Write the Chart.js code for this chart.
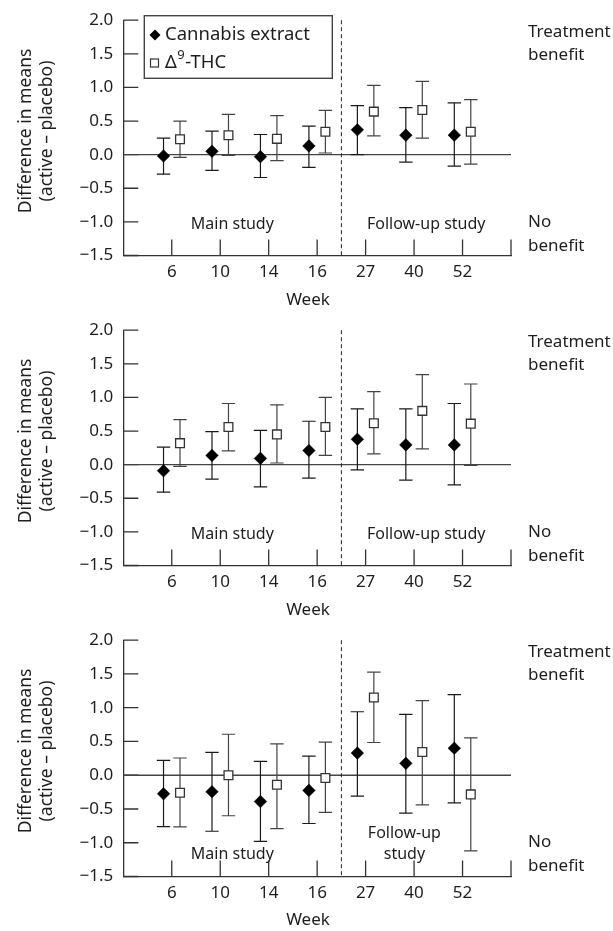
<!DOCTYPE html>
<html>
<head>
<meta charset="utf-8">
<script src="https://cdn.jsdelivr.net/npm/chart.js@4.4.0/dist/chart.umd.min.js"></script>
<style>
  html, body { margin: 0; padding: 0; background: #fff; }
  .panel { position: relative; width: 613px; height: 310px; }
</style>
</head>
<body>
<div class="panel"><canvas id="chart1"></canvas></div>
<div class="panel"><canvas id="chart2"></canvas></div>
<div class="panel" style="height:311px"><canvas id="chart3"></canvas></div>
<script>
const weeks = ["6", "10", "14", "16", "27", "40", "52"];
const yTicks = [-1.5, -1.0, -0.5, 0.0, 0.5, 1.0, 1.5, 2.0];

// panel 1
const extractMean1 = [-0.02, 0.05, -0.03, 0.13, 0.37, 0.29, 0.29];
const extractLow1 = [-0.29, -0.235, -0.34, -0.19, 0.0, -0.11, -0.17];
const extractHigh1 = [0.245, 0.35, 0.30, 0.425, 0.73, 0.70, 0.77];
const thcMean1 = [0.23, 0.29, 0.235, 0.34, 0.64, 0.665, 0.34];
const thcLow1 = [-0.04, -0.01, -0.09, 0.025, 0.28, 0.245, -0.14];
const thcHigh1 = [0.50, 0.60, 0.58, 0.66, 1.03, 1.09, 0.82];

// panel 2
const extractMean2 = [-0.09, 0.137, 0.093, 0.21, 0.377, 0.294, 0.294];
const extractLow2 = [-0.41, -0.215, -0.33, -0.20, -0.078, -0.23, -0.30];
const extractHigh2 = [0.26, 0.49, 0.51, 0.646, 0.83, 0.83, 0.91];
const thcMean2 = [0.32, 0.56, 0.45, 0.56, 0.617, 0.80, 0.61];
const thcLow2 = [-0.025, 0.205, 0.025, 0.137, 0.16, 0.235, -0.01];
const thcHigh2 = [0.67, 0.91, 0.89, 1.0, 1.087, 1.34, 1.20];

// panel 3
const extractMean3 = [-0.274, -0.245, -0.39, -0.225, 0.328, 0.176, 0.40];
const extractLow3 = [-0.76, -0.83, -0.98, -0.715, -0.31, -0.56, -0.41];
const extractHigh3 = [0.22, 0.338, 0.205, 0.284, 0.94, 0.90, 1.194];
const thcMean3 = [-0.26, 0.0, -0.142, -0.04, 1.15, 0.343, -0.284];
const thcLow3 = [-0.764, -0.60, -0.79, -0.55, 0.485, -0.44, -1.12];
const thcHigh3 = [0.255, 0.607, 0.465, 0.49, 1.527, 1.106, 0.553];

const FONT = '"Noto Sans", "Open Sans", sans-serif';
const INK = "#1e1e1e";
const OFFSET = 0.17;

function fmtTick(v) {
  return (v < 0 ? "\u2212" : "") + Math.abs(v).toFixed(1);
}

// inner ticks, reference lines, error bars
const decorBefore = {
  id: "decorBefore",
  beforeDatasetsDraw(chart) {
    const { ctx, chartArea: a, scales: { x, y } } = chart;
    ctx.save();
    ctx.strokeStyle = "#333";
    ctx.lineWidth = 1.3;
    ctx.beginPath();
    yTicks.forEach(v => {
      const py = y.getPixelForValue(v);
      ctx.moveTo(a.left, py);
      ctx.lineTo(a.left + 15, py);
    });
    for (let i = 1; i <= weeks.length + 1; i++) {
      const px = x.getPixelForValue(i);
      ctx.moveTo(px, a.bottom);
      ctx.lineTo(px, a.bottom - 16);
    }
    ctx.stroke();

    // zero line
    ctx.strokeStyle = "#444";
    ctx.lineWidth = 1.3;
    ctx.beginPath();
    ctx.moveTo(a.left, y.getPixelForValue(0));
    ctx.lineTo(a.right, y.getPixelForValue(0));
    ctx.stroke();

    // main / follow-up split
    ctx.strokeStyle = "#222";
    ctx.lineWidth = 1;
    ctx.setLineDash([4, 3]);
    ctx.beginPath();
    ctx.moveTo(x.getPixelForValue(4.5), a.top);
    ctx.lineTo(x.getPixelForValue(4.5), a.bottom);
    ctx.stroke();
    ctx.setLineDash([]);

    // error bars
    chart.data.datasets.forEach((ds, di) => {
      const meta = chart.getDatasetMeta(di);
      ctx.strokeStyle = ds.errColor;
      ctx.lineWidth = 1.2;
      ctx.beginPath();
      meta.data.forEach((pt, i) => {
        const lo = y.getPixelForValue(ds.errLow[i]);
        const hi = y.getPixelForValue(ds.errHigh[i]);
        ctx.moveTo(pt.x, lo);
        ctx.lineTo(pt.x, hi);
        ctx.moveTo(pt.x - 6.7, lo);
        ctx.lineTo(pt.x + 6.7, lo);
        ctx.moveTo(pt.x - 6.7, hi);
        ctx.lineTo(pt.x + 6.7, hi);
      });
      ctx.stroke();
    });
    ctx.restore();
  }
};

// texts and legend
const decorAfter = {
  id: "decorAfter",
  afterDraw(chart, args, opts) {
    const { ctx, chartArea: a, scales: { x, y } } = chart;
    ctx.save();
    ctx.fillStyle = INK;

    // y title
    ctx.save();
    ctx.translate(31, 131);
    ctx.rotate(-Math.PI / 2);
    ctx.font = "17.5px " + FONT;
    ctx.textAlign = "center";
    ctx.textBaseline = "alphabetic";
    ctx.fillText("Difference in means", 0, 0);
    ctx.fillText("(active \u2013 placebo)", 0, 21);
    ctx.restore();

    ctx.textAlign = "center";
    ctx.textBaseline = "middle";
    ctx.font = "17px " + FONT;
    ctx.fillText("Week", 308, 300);

    ctx.font = "16px " + FONT;
    ctx.fillText("Main study", x.getPixelForValue(2.25), y.getPixelForValue(opts.mainY));
    opts.followText.forEach((t, i) => {
      ctx.fillText(t, x.getPixelForValue(opts.followX), y.getPixelForValue(opts.followY) + i * 21.5);
    });

    ctx.textAlign = "left";
    ctx.font = "17px " + FONT;
    const rx = a.right + 17;
    ctx.fillText("Treatment", rx, 32.3);
    ctx.fillText("benefit", rx, 55);
    ctx.fillText("No", rx, 222);
    ctx.fillText("benefit", rx, 246);

    if (opts.legend) {
      ctx.strokeStyle = "#444";
      ctx.lineWidth = 1.4;
      ctx.strokeRect(144.3, 15.7, 188, 62.6);
      // diamond
      ctx.fillStyle = "#000";
      ctx.beginPath();
      ctx.moveTo(155, 29.5);
      ctx.lineTo(160.5, 35);
      ctx.lineTo(155, 40.5);
      ctx.lineTo(149.5, 35);
      ctx.closePath();
      ctx.fill();
      // square
      ctx.fillStyle = "#fff";
      ctx.strokeStyle = "#333";
      ctx.lineWidth = 1.2;
      ctx.fillRect(150.5, 59, 8, 8);
      ctx.strokeRect(150.5, 59, 8, 8);
      ctx.fillStyle = INK;
      ctx.font = "18.5px " + FONT;
      ctx.fillText("Cannabis extract", 165, 35);
      const w = ctx.measureText("\u0394").width;
      ctx.fillText("\u0394", 165, 63);
      ctx.font = "13px " + FONT;
      ctx.fillText("9", 165 + w + 0.5, 55.5);
      const w9 = ctx.measureText("9").width;
      ctx.font = "18.5px " + FONT;
      ctx.fillText("-THC", 165 + w + w9 + 1, 63);
    }
    ctx.restore();
  }
};

function makeChart(id, eMean, eLow, eHigh, tMean, tLow, tHigh, decor) {
  return new Chart(document.getElementById(id), {
    type: "scatter",
    data: {
      datasets: [
        {
          label: "Cannabis extract",
          data: eMean.map((v, i) => ({ x: i + 1 - OFFSET, y: v })),
          errLow: eLow,
          errHigh: eHigh,
          errColor: "#1a1a1a",
          pointStyle: "rectRot",
          pointRadius: 6.3,
          backgroundColor: "#000",
          borderColor: "#000",
          borderWidth: 0.5
        },
        {
          label: "\u0394\u2079-THC",
          data: tMean.map((v, i) => ({ x: i + 1 + OFFSET, y: v })),
          errLow: tLow,
          errHigh: tHigh,
          errColor: "#444",
          pointStyle: "rect",
          pointRadius: 6.2,
          backgroundColor: "#fff",
          borderColor: "#333",
          borderWidth: 1.3
        }
      ]
    },
    options: {
      responsive: true,
      maintainAspectRatio: false,
      animation: false,
      events: [],
      layout: { padding: { top: 17.3, right: 102, bottom: 0, left: 0 } },
      plugins: {
        legend: { display: false },
        tooltip: { enabled: false },
        decorAfter: decor
      },
      scales: {
        x: {
          type: "linear",
          min: 0,
          max: weeks.length + 1,
          afterFit: s => { s.height = 54.5; },
          afterBuildTicks: s => { s.ticks = weeks.map((w, i) => ({ value: i + 1 })); },
          grid: { display: true, drawOnChartArea: false, drawTicks: false },
          border: { display: true, color: "#333", width: 1.3 },
          ticks: {
            autoSkip: false,
            maxRotation: 0,
            padding: 6,
            color: INK,
            font: { family: FONT, size: 17 },
            callback: v => weeks[v - 1] || ""
          }
        },
        y: {
          min: -1.5,
          max: 2.0,
          afterFit: s => { s.width = 123.3; },
          afterBuildTicks: s => { s.ticks = yTicks.map(v => ({ value: v })); },
          grid: { display: true, drawOnChartArea: false, drawTicks: false },
          border: { display: true, color: "#333", width: 1.3 },
          ticks: {
            padding: 10,
            color: INK,
            font: { family: FONT, size: 17 },
            callback: v => fmtTick(v)
          }
        }
      }
    },
    plugins: [decorBefore, decorAfter]
  });
}

makeChart("chart1", extractMean1, extractLow1, extractHigh1, thcMean1, thcLow1, thcHigh1,
  { legend: true, mainY: -1.04, followText: ["Follow-up study"], followX: 6.25, followY: -1.04 });
makeChart("chart2", extractMean2, extractLow2, extractHigh2, thcMean2, thcLow2, thcHigh2,
  { legend: false, mainY: -1.04, followText: ["Follow-up study"], followX: 6.25, followY: -1.04 });
makeChart("chart3", extractMean3, extractLow3, extractHigh3, thcMean3, thcLow3, thcHigh3,
  { legend: false, mainY: -1.175, followText: ["Follow-up", "study"], followX: 5.8, followY: -0.86 });
</script>
</body>
</html>
